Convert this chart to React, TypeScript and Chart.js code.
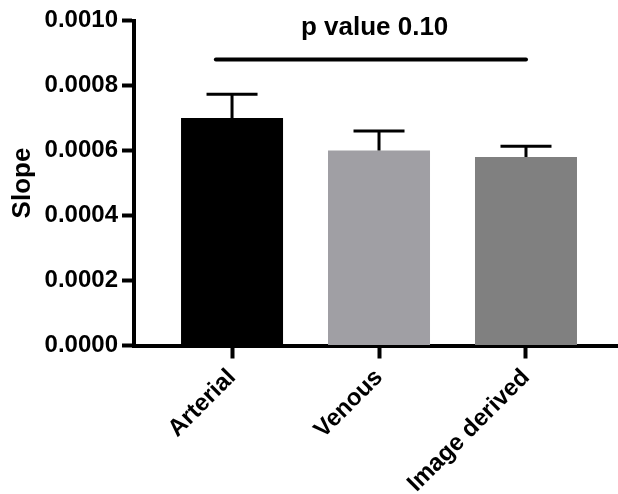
import React, { useEffect, useRef } from 'react';
import { Chart, registerables } from 'chart.js';

Chart.register(...registerables);

const categories = ['Arterial', 'Venous', 'Image derived'];
const means = [0.0007, 0.0006, 0.00058];
const errorsUp = [0.000073, 0.00006, 0.000033];
const barColors = ['#000000', '#a09fa4', '#808080'];
const yTicks = [0, 0.0002, 0.0004, 0.0006, 0.0008, 0.001];
const sigFrom = -0.11;
const sigTo = 2;
const sigY = 0.00088;
const sigLabel = 'p value 0.10';
const sigLabelX = 0.97;
const sigLabelY = 0.000955;

const FONT = '"Liberation Sans", Arial, sans-serif';

const annotatePlugin = {
  id: 'annotate',
  afterDatasetsDraw(chart: any) {
    const ctx = chart.ctx;
    const xs = chart.scales.x;
    const ys = chart.scales.y;
    const meta = chart.getDatasetMeta(0);
    ctx.save();
    ctx.strokeStyle = '#000';
    ctx.lineWidth = 3;
    ctx.lineCap = 'butt';
    meta.data.forEach((bar: any, i: number) => {
      const cx = bar.x;
      const top = ys.getPixelForValue(means[i]);
      const cap = ys.getPixelForValue(means[i] + errorsUp[i]);
      const hw = bar.width * 0.25;
      ctx.beginPath();
      ctx.moveTo(cx, top);
      ctx.lineTo(cx, cap);
      ctx.moveTo(cx - hw, cap);
      ctx.lineTo(cx + hw, cap);
      ctx.stroke();
    });
    ctx.lineWidth = 4;
    ctx.lineCap = 'round';
    const ly = ys.getPixelForValue(sigY);
    ctx.beginPath();
    ctx.moveTo(xs.getPixelForValue(sigFrom), ly);
    ctx.lineTo(xs.getPixelForValue(sigTo), ly);
    ctx.stroke();
    ctx.fillStyle = '#000';
    ctx.font = `bold 26px ${FONT}`;
    ctx.textAlign = 'center';
    ctx.textBaseline = 'alphabetic';
    ctx.fillText(sigLabel, xs.getPixelForValue(sigLabelX), ys.getPixelForValue(sigLabelY));
    ctx.restore();
  },
};

export default function App() {
  const ref = useRef<HTMLCanvasElement>(null);
  useEffect(() => {
    document.body.style.margin = '0';
    const chart = new Chart(ref.current as HTMLCanvasElement, {
      type: 'bar',
      data: {
        datasets: [
          {
            data: means.map((v, i) => ({ x: i, y: v })),
            backgroundColor: barColors,
            borderWidth: 0,
            categoryPercentage: 1,
            barPercentage: 0.694,
          },
        ],
      },
      options: {
        responsive: false,
        animation: false,
        devicePixelRatio: 1,
        layout: { padding: { top: 20.5, right: 0, left: 0, bottom: 0 } },
        plugins: { legend: { display: false }, tooltip: { enabled: false }, title: { display: false } },
        scales: {
          x: {
            type: 'linear',
            min: -0.667,
            max: 2.626,
            offset: false,
            z: 1,
            afterFit: (s: any) => { s.height = 148.5; },
            afterBuildTicks: (s: any) => { s.ticks = categories.map((_, i) => ({ value: i })); },
            grid: { display: true, drawOnChartArea: false, drawTicks: true, tickLength: 13, tickWidth: 4, tickColor: '#000', offset: false },
            border: { display: true, color: '#000', width: 4 },
            ticks: {
              autoSkip: false,
              minRotation: 45,
              maxRotation: 45,
              padding: 5,
              color: '#000',
              font: { family: FONT, size: 24, weight: 'bold' },
              callback: (v: any) => categories[Math.round(Number(v))] ?? '',
            },
          },
          y: {
            min: 0,
            max: 0.001,
            z: 1,
            afterFit: (s: any) => { s.width = 134; },
            afterBuildTicks: (s: any) => { s.ticks = yTicks.map((v) => ({ value: v })); },
            grid: { display: true, drawOnChartArea: false, drawTicks: true, tickLength: 12, tickWidth: 4, tickColor: '#000' },
            border: { display: true, color: '#000', width: 4 },
            ticks: {
              padding: 4,
              color: '#000',
              font: { family: FONT, size: 24, weight: 'bold' },
              callback: (v: any) => Number(v).toFixed(4),
            },
            title: {
              display: true,
              text: 'Slope',
              color: '#000',
              padding: { top: 7, bottom: 0 },
              font: { family: FONT, size: 26, weight: 'bold' },
            },
          },
        },
      },
      plugins: [annotatePlugin],
    } as any);
    return () => chart.destroy();
  }, []);
  return (
    <div style={{ position: 'absolute', left: 0, top: 0, width: 618, height: 494, background: '#fff' }}>
      <canvas ref={ref} width={618} height={494} />
    </div>
  );
}
